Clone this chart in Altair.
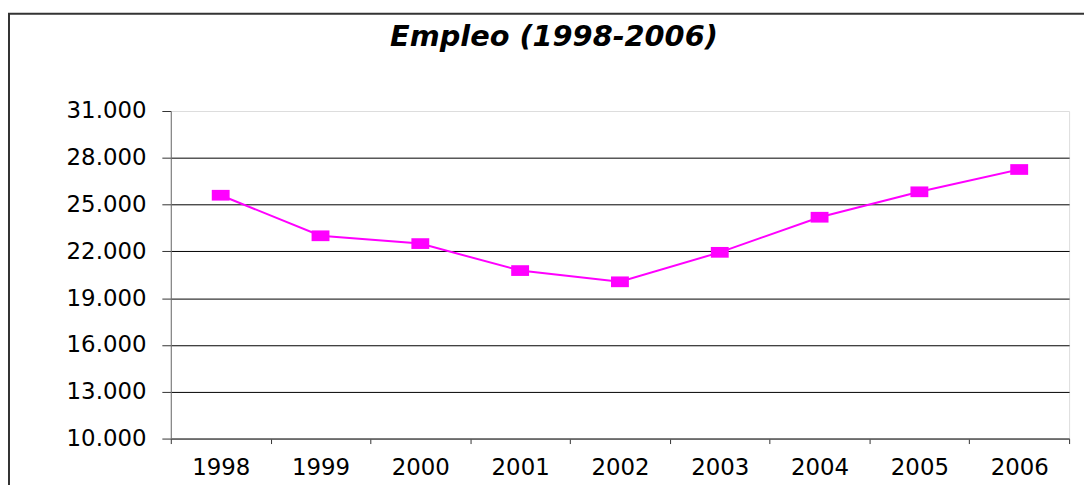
import altair as alt
import pandas as pd

years = ["1998", "1999", "2000", "2001", "2002", "2003", "2004", "2005", "2006"]
empleo = [25600, 23000, 22500, 20770, 20050, 21940, 24190, 25820, 27250]
y_ticks = [10000, 13000, 16000, 19000, 22000, 25000, 28000, 31000]
title_text = "Empleo (1998-2006)"

df = pd.DataFrame({"year": years, "empleo": empleo})

FONT = "DejaVu Sans"

x_enc = alt.X("year:N", sort=years,
              scale=alt.Scale(paddingInner=0, paddingOuter=0),
              axis=alt.Axis(title=None, labelAngle=0, tickBand="extent",
                            labelFontSize=23, labelFont=FONT, labelColor="#000",
                            labelPadding=13, tickSize=5, tickColor="#333",
                            domainColor="#707070", grid=False))
y_enc = alt.Y("empleo:Q",
              scale=alt.Scale(domain=[10000, 31000], nice=False, zero=False),
              axis=alt.Axis(title=None, values=y_ticks,
                            labelExpr="replace(format(datum.value, ','), ',', '.')",
                            labelFontSize=23, labelFont=FONT, labelColor="#000",
                            labelPadding=16, tickSize=9, tickColor="#333",
                            domainColor="#707070",
                            grid=True, gridColor="#000", gridWidth=1,
                            gridOpacity=alt.condition("datum.value == 31000", alt.value(0), alt.value(1))))

base = alt.Chart(df)
line = base.mark_line(color="#FF00FF", strokeWidth=2).encode(x=x_enc, y=y_enc)
pts = base.mark_point(shape="M-1,-0.6L1,-0.6L1,0.6L-1,0.6Z", filled=True, size=324,
                      color="#FF00FF", opacity=1).encode(x=alt.X("year:N", sort=years), y="empleo:Q")

one = alt.Chart(pd.DataFrame({"t": [title_text]}))
frame = one.mark_rect(
    fill="transparent", stroke="#333", strokeWidth=2
).encode(x=alt.value(-163), x2=alt.value(960), y=alt.value(-98), y2=alt.value(500))
title = one.mark_text(font=FONT, fontSize=29, fontWeight="bold", fontStyle="italic",
                      color="#000", align="center", baseline="alphabetic").encode(
    text="t:N", x=alt.value(386), y=alt.value(-65))

chart = alt.layer(line, pts, frame, title).properties(
    width=905, height=330,
    padding={"left": 164, "top": 102, "right": 15, "bottom": 45},
    autosize=alt.AutoSizeParams(type="none"),
).configure_view(fill="#C0C0C0", stroke=None).configure(background="white")

chart.save("out.html", embed_options={"renderer": "svg", "actions": False})
